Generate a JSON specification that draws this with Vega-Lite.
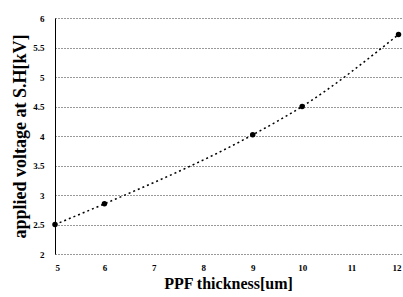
{
  "$schema": "https://vega.github.io/schema/vega-lite/v6.json",
  "autosize": "none",
  "width": 346,
  "height": 236,
  "padding": {"left": 55, "top": 18, "right": 2, "bottom": 43},
  "background": "white",
  "config": {"view": {"stroke": null}, "font": "Liberation Serif"},
  "data": {"values": [
    {"t": 5, "v": 2.5},
    {"t": 6, "v": 2.85},
    {"t": 9, "v": 4.02},
    {"t": 10, "v": 4.5},
    {"t": 11.95, "v": 5.72}
  ]},
  "encoding": {
    "x": {"field": "t", "type": "quantitative", "scale": {"domain": [5, 12], "nice": false},
      "axis": {"title": "PPF thickness[um]", "values": [5,6,7,8,9,10,11,12], "grid": false, "domain": false, "ticks": false,
        "labelFont": "Liberation Serif", "labelFontWeight": "bold", "labelFontSize": 9, "labelColor": "black", "labelPadding": 9,
        "titleFont": "Liberation Serif", "titleFontWeight": "bold", "titleFontSize": 16, "titleColor": "black", "titlePadding": 3}},
    "y": {"field": "v", "type": "quantitative", "scale": {"domain": [2, 6], "nice": false, "zero": false},
      "axis": {"title": "applied voltage at S.H[kV]", "values": [2,2.5,3,3.5,4,4.5,5,5.5,6], "format": "~g",
        "grid": true, "gridDash": [1, 2], "gridColor": "#333", "gridWidth": 1,
        "domain": true, "domainColor": "black", "domainWidth": 1, "ticks": false,
        "labelFont": "Liberation Serif", "labelFontWeight": "bold", "labelFontSize": 9, "labelColor": "black", "labelPadding": 11,
        "titleFont": "Liberation Serif", "titleFontWeight": "bold", "titleFontSize": 18, "titleColor": "black", "titlePadding": 3}}
  },
  "layer": [
    {"mark": {"type": "line", "interpolate": "monotone", "color": "black", "strokeDash": [2, 3], "strokeWidth": 1.5}},
    {"mark": {"type": "point", "filled": true, "shape": "circle", "color": "black", "size": 30, "opacity": 1}}
  ]
}
